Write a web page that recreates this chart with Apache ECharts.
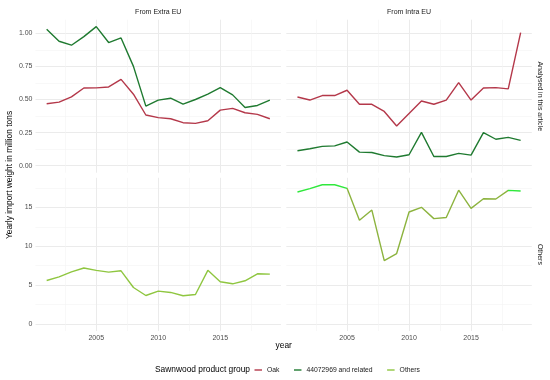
<!DOCTYPE html>
<html>
<head>
<meta charset="utf-8">
<script src="https://cdn.jsdelivr.net/npm/echarts@6/dist/echarts.min.js"></script>
<style>html,body{margin:0;padding:0;background:#fff;}#c{width:550px;height:380px;}</style>
</head>
<body>
<div id="c"></div>
<script>
// ---- data ----
const years = [2001,2002,2003,2004,2005,2006,2007,2008,2009,2010,2011,2012,2013,2014,2015,2016,2017,2018,2019];
const oakExtra   = [0.468,0.48,0.52,0.587,0.588,0.595,0.652,0.54,0.383,0.363,0.355,0.325,0.32,0.34,0.42,0.433,0.40,0.388,0.355];
const greenExtra = [1.03,0.94,0.91,0.975,1.05,0.93,0.965,0.75,0.45,0.495,0.51,0.465,0.50,0.54,0.59,0.535,0.44,0.455,0.495];
const oakIntra   = [0.519,0.496,0.53,0.53,0.57,0.464,0.464,0.41,0.30,0.395,0.489,0.464,0.496,0.627,0.496,0.587,0.59,0.58,1.005];
const greenIntra = [0.113,0.128,0.146,0.15,0.179,0.103,0.10,0.076,0.066,0.083,0.252,0.07,0.07,0.093,0.08,0.25,0.20,0.214,0.192];
const othersExtra = [5.6,6.07,6.7,7.2,6.9,6.67,6.84,4.7,3.67,4.23,4.06,3.63,3.8,6.9,5.43,5.17,5.56,6.46,6.41];
const othersIntra = [16.97,17.4,17.9,17.9,17.44,13.33,14.65,8.16,9.06,14.4,15.0,13.55,13.7,17.2,14.87,16.1,16.07,17.18,17.1];
const seriesNames = ['Oak','44072969 and related','Others'];
const colLabels = ['From Extra EU','From Intra EU'];
const rowLabels = ['Analysed in this article','Others'];
const xTicks = [2005,2010,2015];
const topTicks = [0,0.25,0.5,0.75,1.0];
const botTicks = [0,5,10,15];

const FONT = "'Liberation Sans', Arial, sans-serif";
const C_OAK = '#b4384a', C_GRN = '#1f7a30', C_OTH = '#8fc640', C_OTH2 = '#8cb33e', C_OTH_BR = '#2fe83c';
const pairs = a => years.map((y,i)=>[y,a[i]]);

const gridL = [35.5, 286.3], gridW = 245.5;
const gridT = [19.7, 177.8], gridH = [153, 153.2];
const grids = [];
for (let r=0;r<2;r++) for (let c=0;c<2;c++) grids.push({left:gridL[c], top:gridT[r], width:gridW, height:gridH[r], containLabel:false});

const major = {show:true, lineStyle:{color:'#ebebeb', width:1}, showMinLine:false, showMaxLine:false};
const minor = {show:true, lineStyle:{color:'#f4f4f4', width:0.6}};
const xAxes = grids.map((g,i)=>({
  type:'value', gridIndex:i, min:2000.1, max:2019.9, minInterval:5, maxInterval:5,
  axisLine:{show:false}, axisTick:{show:false},
  axisLabel:{show:i>=2, fontSize:7, color:'#4d4d4d', fontFamily:FONT, margin:4, showMinLabel:false, showMaxLabel:false,
    formatter:v=> xTicks.includes(v)? String(v):''},
  splitLine:major, minorTick:{show:false, splitNumber:2}, minorSplitLine:minor
}));
const yAxes = grids.map((g,i)=>{
  const top = i<2;
  return {
    type:'value', gridIndex:i,
    min: top? -0.0525 : -0.895, max: top? 1.1025 : 18.795,
    minInterval: top?0.25:5, maxInterval: top?0.25:5,
    axisLine:{show:false}, axisTick:{show:false},
    axisLabel:{show:i%2===0, fontSize:7, color:'#4d4d4d', fontFamily:FONT, margin:3, showMinLabel:false, showMaxLabel:false,
      formatter:v=> top ? (topTicks.some(t=>Math.abs(t-v)<1e-9)? v.toFixed(2):'') : (botTicks.includes(v)? String(v):'')},
    splitLine:major, minorTick:{show:false, splitNumber:2}, minorSplitLine:minor
  };
});

const line = (name, data, gi, color) => {
  const s = {
    type:'line', name, data:pairs(data), xAxisIndex:gi, yAxisIndex:gi, showSymbol:false, symbol:'none',
    lineStyle:{width:1.4}, clip:false, animation:false
  };
  if (color) { s.lineStyle.color = color; s.itemStyle = {color}; }
  return s;
};

const series = [
  line(seriesNames[0], oakExtra, 0, C_OAK),
  line(seriesNames[1], greenExtra, 0, C_GRN),
  line(seriesNames[0], oakIntra, 1, C_OAK),
  line(seriesNames[1], greenIntra, 1, C_GRN),
  line(seriesNames[2], othersExtra, 2, C_OTH),
  line(seriesNames[2], othersIntra, 3, null)
];

const txt = (text, x, y, size, opts={}) => ({
  type:'text', x, y, rotation:opts.rot||0,
  style:{text, fontSize:size, fontFamily:FONT, fill:opts.fill||'#1a1a1a', align:opts.align||'center', verticalAlign:'middle'}
});

const graphics = [
  txt(colLabels[0], gridL[0]+gridW/2, 12.5, 7),
  txt(colLabels[1], gridL[1]+gridW/2, 12.5, 7),
  txt(rowLabels[0], 540, gridT[0]+gridH[0]/2, 7, {rot:-Math.PI/2}),
  txt(rowLabels[1], 540, gridT[1]+gridH[1]/2, 7, {rot:-Math.PI/2}),
  txt('Yearly import weight in million tons', 10, 175, 8.4, {rot:Math.PI/2, fill:'#000'}),
  txt('year', 283.7, 345.5, 8.4, {fill:'#000'}),
  txt('Sawnwood product group', 155, 370, 8.4, {align:'left', fill:'#000'})
];

const chart = echarts.init(document.getElementById('c'), null, {renderer:'canvas'});
chart.setOption({
  animation:false,
  backgroundColor:'#fff',
  color:[C_OAK, C_GRN, C_OTH],
  grid:grids, xAxis:xAxes, yAxis:yAxes, series,
  visualMap:[{
    type:'piecewise', show:false, seriesIndex:5, dimension:0,
    pieces:[{lte:2005, color:C_OTH_BR},{gt:2005, lt:2018, color:C_OTH2},{gte:2018, color:C_OTH_BR}]
  }],
  legend:{
    data:seriesNames, left:254.5, top:366.5, padding:0, itemGap:14.5, itemWidth:7.5, itemHeight:1.4, icon:'rect',
    textStyle:{fontSize:6.8, fontFamily:FONT, color:'#1a1a1a'}, selectedMode:false
  },
  graphic:graphics
});
</script>
</body>
</html>
